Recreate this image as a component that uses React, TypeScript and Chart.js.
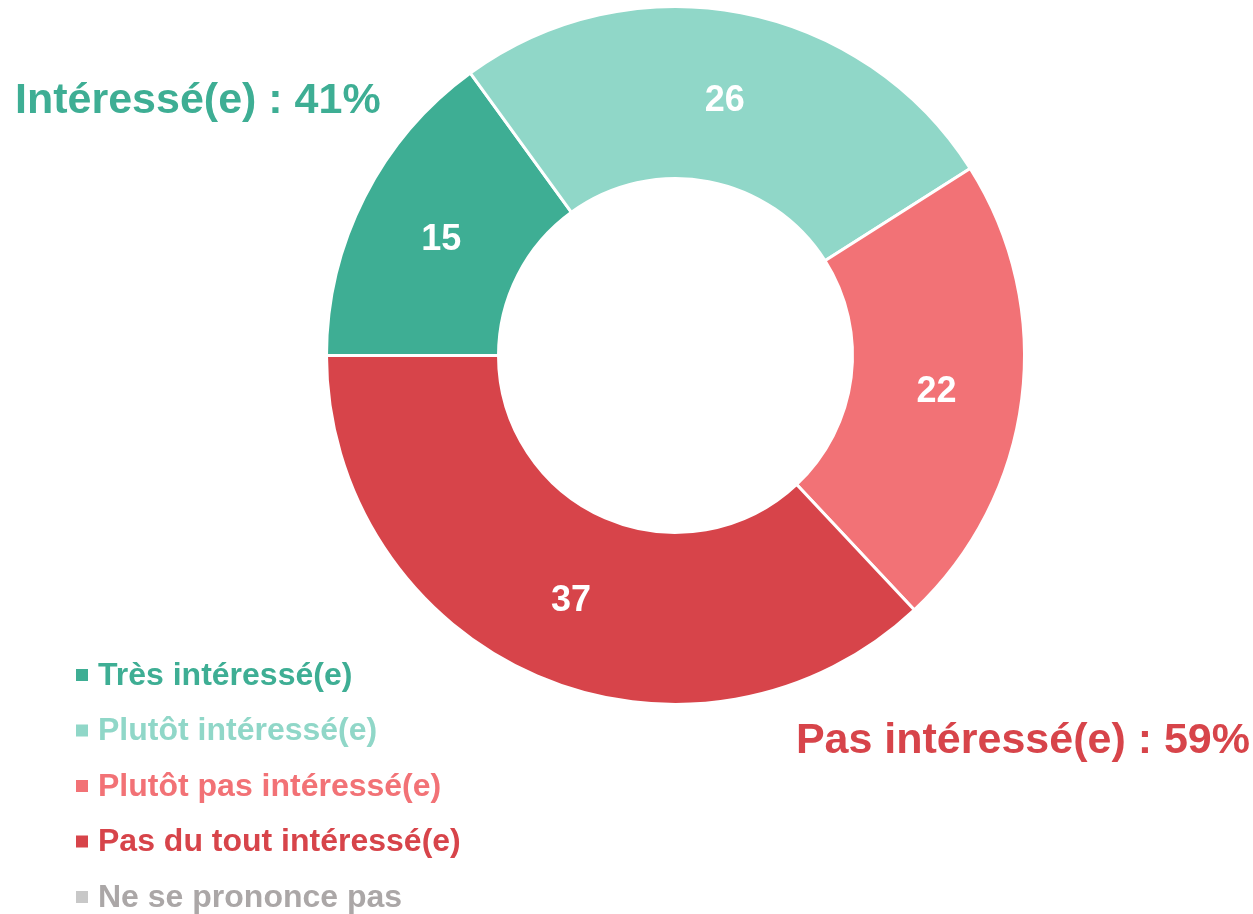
import React, { useEffect, useRef } from "react";
import { Chart, registerables } from "chart.js";

Chart.register(...registerables);

const categories = [
  "Très intéressé(e)",
  "Plutôt intéressé(e)",
  "Plutôt pas intéressé(e)",
  "Pas du tout intéressé(e)",
  "Ne se prononce pas",
];
const values = [15, 26, 22, 37, 0];
const colors = ["#3EAE94", "#90D7C8", "#F27276", "#D7444A", "#C8C8C8"];
const legendTextColors = ["#3EAE94", "#90D7C8", "#F27276", "#D7444A", "#ABA7A7"];
const summaryLabels = ["Intéressé(e) : 41%", "Pas intéressé(e) : 59%"];
const summaryColors = ["#3EAE94", "#D7444A"];

const FONT = '"Liberation Sans", Arial, sans-serif';

const overlayPlugin = {
  id: "overlay",
  afterDatasetsDraw(chart: any) {
    const ctx = chart.ctx;
    const meta = chart.getDatasetMeta(0);
    ctx.save();
    ctx.font = `bold 36px ${FONT}`;
    ctx.fillStyle = "#FFFFFF";
    ctx.textAlign = "center";
    ctx.textBaseline = "middle";
    meta.data.forEach((arc: any, i: number) => {
      const v = values[i];
      if (!v) return;
      const p = arc.tooltipPosition();
      ctx.fillText(String(v), p.x, p.y + 4);
    });
    ctx.restore();
  },
  afterDraw(chart: any) {
    const ctx = chart.ctx;
    ctx.save();
    // summary labels
    ctx.font = `bold 43px ${FONT}`;
    ctx.textBaseline = "middle";
    ctx.textAlign = "left";
    ctx.fillStyle = summaryColors[0];
    ctx.fillText(summaryLabels[0], 15, 101);
    ctx.textAlign = "right";
    ctx.fillStyle = summaryColors[1];
    ctx.fillText(summaryLabels[1], 1250, 741);
    // legend
    ctx.textAlign = "left";
    ctx.font = `bold 32px ${FONT}`;
    categories.forEach((c, i) => {
      const y = 675 + i * 55.5;
      ctx.fillStyle = colors[i];
      ctx.fillRect(76, y - 6, 12, 12);
      ctx.fillStyle = legendTextColors[i];
      ctx.fillText(c, 98, y + 1);
    });
    ctx.restore();
  },
};

export default function App() {
  const ref = useRef<HTMLCanvasElement>(null);
  useEffect(() => {
    if (!ref.current) return;
    const chart = new Chart(ref.current, {
      type: "doughnut",
      data: {
        labels: categories,
        datasets: [
          {
            data: values,
            backgroundColor: colors,
            borderColor: "#FFFFFF",
            borderWidth: 3,
            hoverOffset: 0,
          },
        ],
      },
      options: {
        responsive: false,
        animation: false,
        rotation: -90,
        radius: 349,
        cutout: 177,
        layout: { padding: { left: 325, top: 5, right: 227, bottom: 208 } },
        plugins: {
          legend: { display: false },
          tooltip: { enabled: false },
        },
        events: [],
      },
      plugins: [overlayPlugin],
    });
    return () => chart.destroy();
  }, []);
  return (
    <div style={{ position: "fixed", left: 0, top: 0, width: 1253, height: 914, background: "#fff" }}>
      <canvas ref={ref} width={1253} height={914} style={{ display: "block" }} />
    </div>
  );
}
